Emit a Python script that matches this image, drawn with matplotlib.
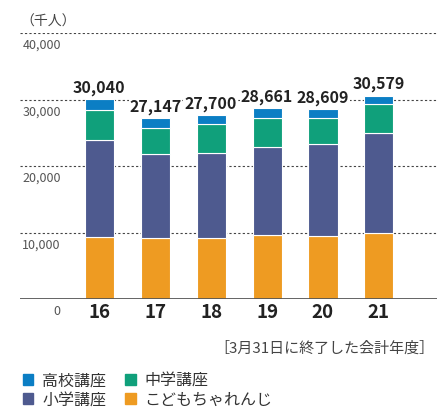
import matplotlib
matplotlib.use("Agg")
import matplotlib.pyplot as plt
from matplotlib.patches import Patch
from matplotlib.transforms import blended_transform_factory
import numpy as np

plt.rcParams["font.family"] = ["Noto Sans CJK JP", "DejaVu Sans"]

years = ["16", "17", "18", "19", "20", "21"]
totals = [30040, 27147, 27700, 28661, 28609, 30579]
kodomo = [9320, 9170, 9210, 9560, 9470, 9920]        # こどもちゃれんじ
shogaku = [14590, 12630, 12800, 13350, 13790, 15050]  # 小学講座
chugaku = [4440, 3980, 4270, 4380, 4030, 4290]        # 中学講座
koko = [1690, 1367, 1420, 1371, 1319, 1319]           # 高校講座
yticks = [10000, 20000, 30000, 40000]

c_kodomo = "#ee9b22"
c_shogaku = "#4e5a8f"
c_chugaku = "#10a07b"
c_koko = "#0b7ec4"

fig = plt.figure(figsize=(4.37, 4.10), dpi=100)
ax = fig.add_axes([20 / 437, 110 / 410, 417 / 437, 266 / 410])

x = np.arange(len(years))
w = 0.52
bottom = np.zeros(len(years))
for vals, col in [(kodomo, c_kodomo), (shogaku, c_shogaku),
                  (chugaku, c_chugaku), (koko, c_koko)]:
    ax.bar(x, vals, w, bottom=bottom, color=col, edgecolor="white",
           linewidth=0.8, zorder=3)
    bottom += np.array(vals)

for xi, t in zip(x, totals):
    ax.annotate(f"{t:,}", (xi, t), xytext=(0, 3), textcoords="offset points",
                ha="center", va="bottom", fontsize=11.5, fontweight="semibold",
                color="#222222", zorder=4,
                bbox=dict(facecolor="white", edgecolor="none", pad=0.5))

for yv in yticks:
    ax.axhline(yv, color="#444444", linewidth=0.8, linestyle=(0, (2, 2)), zorder=1)
ax.axhline(0, color="#555555", linewidth=2, zorder=4)

tr = blended_transform_factory(ax.transAxes, ax.transData)
for yv in yticks:
    ax.text(0.098, yv - 700, f"{yv:,}", transform=tr, ha="right", va="top",
            fontsize=9, color="#555555")
ax.text(0.098, -700, "0", transform=tr, ha="right", va="top",
        fontsize=9, color="#555555")

ax.set_xlim(-1.42, 6.04)
ax.set_ylim(0, 40000)
ax.set_xticks(x)
ax.set_xticklabels(years, fontsize=13.5, fontweight="bold", color="#222222")
ax.tick_params(axis="x", length=0, pad=2)
ax.set_yticks([])
for s in ax.spines.values():
    s.set_visible(False)

fig.text(20 / 437, 1 - 22 / 410, "（千人）", ha="left", va="center",
         fontsize=10, color="#444444")
fig.text(434 / 437, 1 - 349 / 410, "［3月31日に終了した会計年度］", ha="right",
         va="center", fontsize=10.8, color="#444444")

handles = [Patch(color=c_koko, label="高校講座"),
           Patch(color=c_shogaku, label="小学講座"),
           Patch(color=c_chugaku, label="中学講座"),
           Patch(color=c_kodomo, label="こどもちゃれんじ")]
leg = fig.legend(handles=handles, ncol=2, loc="upper left",
                 bbox_to_anchor=(23 / 437, 1 - 373 / 410), frameon=False,
                 fontsize=11.5, handlelength=0.65, handleheight=0.65,
                 handletextpad=0.55, columnspacing=1.2, labelspacing=0.15,
                 borderpad=0, borderaxespad=0)
for t in leg.get_texts():
    t.set_color("#333333")

fig.savefig("out.png", dpi=100)
